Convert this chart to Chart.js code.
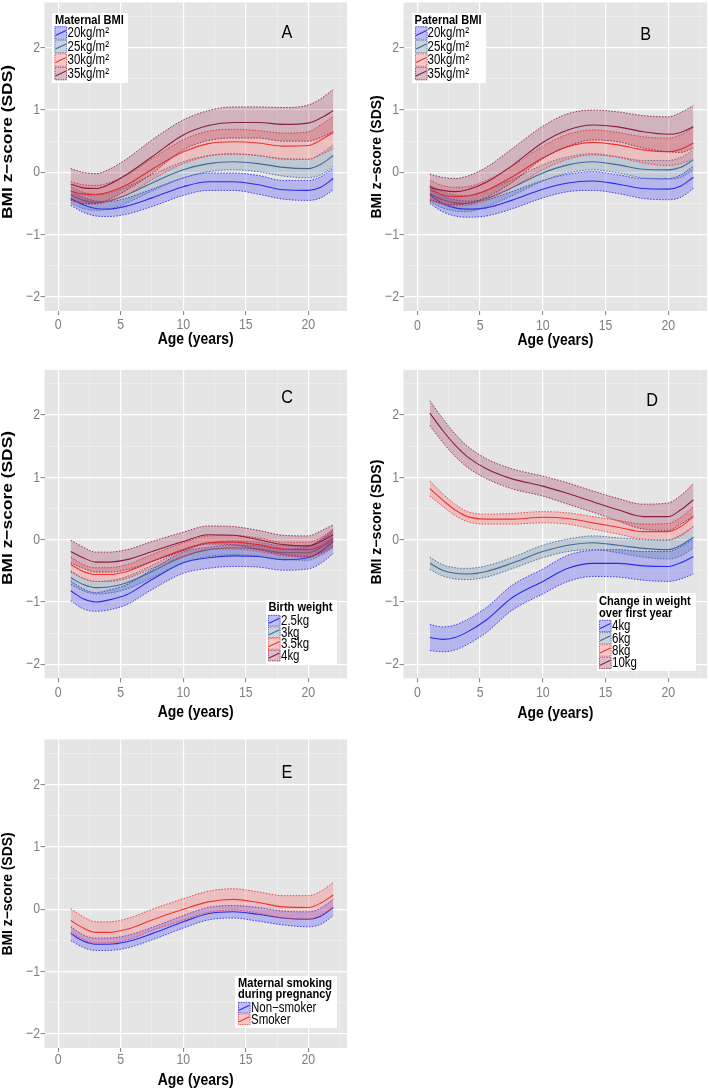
<!DOCTYPE html>
<html>
<head>
<meta charset="utf-8">
<script src="https://cdn.jsdelivr.net/npm/chart.js@4.4.1/dist/chart.umd.min.js"></script>
<style>
html, body { margin: 0; padding: 0; background: #fff; }
body { position: relative; width: 709px; height: 1089px; overflow: hidden; }
canvas { position: absolute; }
</style>
</head>
<body>
<canvas id="cA"></canvas>
<canvas id="cB"></canvas>
<canvas id="cC"></canvas>
<canvas id="cD"></canvas>
<canvas id="cE"></canvas>
<script>
/* =========================================================
   DATA
   ========================================================= */
const AGES = [1, 2, 3, 4, 5.5, 7.5, 10, 12, 14, 16, 18, 20, 21, 22];
const X_MAJOR = [0, 5, 10, 15, 20];
const X_MINOR = [2.5, 7.5, 12.5, 17.5, 22.5];
const Y_MAJOR = [-2, -1, 0, 1, 2];
const Y_MINOR = [-1.5, -0.5, 0.5, 1.5, 2.5];
const X_TITLE = "Age (years)";
const Y_TITLE = "BMI z\u2212score (SDS)";

// A: maternal BMI
const A_LABELS = ["20kg/m²", "25kg/m²", "30kg/m²", "35kg/m²"];
const A20_mean = [-0.42, -0.52, -0.58, -0.59, -0.54, -0.41, -0.23, -0.15, -0.15, -0.20, -0.28, -0.29, -0.24, -0.10];
const A20_lo   = [-0.53, -0.64, -0.70, -0.71, -0.67, -0.55, -0.37, -0.29, -0.29, -0.35, -0.43, -0.45, -0.41, -0.28];
const A20_hi   = [-0.30, -0.40, -0.46, -0.47, -0.41, -0.27, -0.09, -0.01, -0.01, -0.05, -0.13, -0.13, -0.07, 0.07];
const A25_mean = [-0.36, -0.45, -0.48, -0.46, -0.36, -0.17, 0.04, 0.14, 0.17, 0.14, 0.08, 0.06, 0.13, 0.27];
const A25_lo   = [-0.49, -0.58, -0.61, -0.59, -0.49, -0.30, -0.09, 0.01, 0.04, 0.01, -0.06, -0.09, -0.04, 0.10];
const A25_hi   = [-0.23, -0.32, -0.35, -0.33, -0.23, -0.04, 0.17, 0.27, 0.30, 0.27, 0.22, 0.21, 0.30, 0.44];
const A30_mean = [-0.30, -0.35, -0.36, -0.32, -0.20, 0.05, 0.33, 0.46, 0.49, 0.47, 0.42, 0.43, 0.52, 0.64];
const A30_lo   = [-0.45, -0.50, -0.51, -0.47, -0.36, -0.12, 0.14, 0.26, 0.29, 0.27, 0.21, 0.21, 0.28, 0.38];
const A30_hi   = [-0.15, -0.20, -0.21, -0.17, -0.04, 0.22, 0.52, 0.66, 0.69, 0.67, 0.63, 0.65, 0.76, 0.90];
const A35_mean = [-0.19, -0.25, -0.26, -0.20, -0.03, 0.25, 0.60, 0.75, 0.80, 0.80, 0.77, 0.79, 0.87, 0.99];
const A35_lo   = [-0.44, -0.50, -0.50, -0.44, -0.28, -0.02, 0.36, 0.51, 0.55, 0.55, 0.50, 0.50, 0.56, 0.65];
const A35_hi   = [0.06, 0.00, -0.02, 0.04, 0.22, 0.52, 0.84, 0.99, 1.05, 1.05, 1.04, 1.08, 1.18, 1.33];

// B: paternal BMI
const B_LABELS = ["20kg/m²", "25kg/m²", "30kg/m²", "35kg/m²"];
const B20_mean = [-0.36, -0.50, -0.57, -0.59, -0.57, -0.45, -0.27, -0.17, -0.14, -0.19, -0.26, -0.27, -0.22, -0.08];
const B20_lo   = [-0.50, -0.63, -0.70, -0.72, -0.70, -0.59, -0.41, -0.31, -0.29, -0.34, -0.42, -0.44, -0.40, -0.26];
const B20_hi   = [-0.22, -0.37, -0.44, -0.46, -0.44, -0.31, -0.13, -0.03, 0.01, -0.04, -0.10, -0.10, -0.04, 0.10];
const B25_mean = [-0.34, -0.44, -0.49, -0.50, -0.42, -0.25, -0.01, 0.12, 0.17, 0.12, 0.05, 0.04, 0.08, 0.20];
const B25_lo   = [-0.47, -0.57, -0.62, -0.63, -0.55, -0.38, -0.14, -0.01, 0.04, -0.01, -0.09, -0.11, -0.08, 0.04];
const B25_hi   = [-0.21, -0.31, -0.36, -0.37, -0.29, -0.12, 0.12, 0.25, 0.30, 0.25, 0.19, 0.19, 0.24, 0.36];
const B30_mean = [-0.28, -0.36, -0.39, -0.38, -0.29, -0.08, 0.23, 0.41, 0.48, 0.44, 0.36, 0.33, 0.37, 0.47];
const B30_lo   = [-0.43, -0.51, -0.54, -0.53, -0.45, -0.25, 0.04, 0.21, 0.28, 0.24, 0.15, 0.11, 0.14, 0.22];
const B30_hi   = [-0.13, -0.21, -0.24, -0.23, -0.13, 0.09, 0.42, 0.61, 0.68, 0.64, 0.57, 0.55, 0.60, 0.72];
const B35_mean = [-0.24, -0.29, -0.31, -0.28, -0.16, 0.10, 0.48, 0.68, 0.76, 0.73, 0.65, 0.61, 0.64, 0.73];
const B35_lo   = [-0.45, -0.50, -0.52, -0.50, -0.40, -0.17, 0.22, 0.42, 0.52, 0.49, 0.39, 0.33, 0.32, 0.39];
const B35_hi   = [-0.03, -0.08, -0.10, -0.06, 0.08, 0.37, 0.74, 0.94, 1.00, 0.97, 0.91, 0.89, 0.96, 1.07];

// C: birth weight
const C_LABELS = ["2.5kg", "3kg", "3.5kg", "4kg"];
const C25_mean = [-0.82, -0.95, -1.00, -0.97, -0.88, -0.64, -0.37, -0.29, -0.26, -0.27, -0.32, -0.29, -0.19, -0.03];
const C25_lo   = [-0.98, -1.11, -1.15, -1.13, -1.04, -0.80, -0.54, -0.46, -0.43, -0.44, -0.49, -0.47, -0.38, -0.22];
const C25_hi   = [-0.66, -0.79, -0.85, -0.81, -0.72, -0.48, -0.20, -0.12, -0.09, -0.10, -0.15, -0.11, 0.00, 0.16];
const C3_mean  = [-0.61, -0.72, -0.77, -0.76, -0.69, -0.51, -0.27, -0.16, -0.13, -0.15, -0.21, -0.21, -0.13, 0.00];
const C3_lo    = [-0.72, -0.82, -0.87, -0.86, -0.79, -0.61, -0.37, -0.27, -0.24, -0.26, -0.32, -0.33, -0.25, -0.13];
const C3_hi    = [-0.50, -0.62, -0.67, -0.66, -0.59, -0.41, -0.17, -0.05, -0.02, -0.04, -0.10, -0.09, -0.01, 0.13];
const C35_mean = [-0.40, -0.51, -0.56, -0.56, -0.51, -0.35, -0.16, -0.05, -0.04, -0.08, -0.15, -0.16, -0.10, 0.03];
const C35_lo   = [-0.52, -0.62, -0.67, -0.67, -0.62, -0.46, -0.27, -0.16, -0.15, -0.19, -0.26, -0.28, -0.23, -0.11];
const C35_hi   = [-0.28, -0.40, -0.45, -0.45, -0.40, -0.24, -0.05, 0.06, 0.07, 0.03, -0.04, -0.04, 0.03, 0.17];
const C4_mean  = [-0.19, -0.29, -0.36, -0.36, -0.32, -0.19, -0.03, 0.08, 0.07, 0.00, -0.08, -0.10, -0.03, 0.08];
const C4_lo    = [-0.37, -0.46, -0.52, -0.52, -0.48, -0.35, -0.18, -0.07, -0.08, -0.16, -0.24, -0.27, -0.21, -0.10];
const C4_hi    = [-0.01, -0.12, -0.20, -0.20, -0.16, -0.03, 0.12, 0.22, 0.21, 0.15, 0.07, 0.06, 0.14, 0.24];

// D: change in weight over first year
const D_LABELS = ["4kg", "6kg", "8kg", "10kg"];
const D4_mean  = [-1.57, -1.60, -1.57, -1.48, -1.29, -0.94, -0.67, -0.46, -0.38, -0.38, -0.42, -0.43, -0.37, -0.27];
const D4_lo    = [-1.78, -1.80, -1.77, -1.68, -1.49, -1.14, -0.87, -0.67, -0.59, -0.60, -0.65, -0.67, -0.63, -0.55];
const D4_hi    = [-1.36, -1.40, -1.37, -1.28, -1.09, -0.74, -0.47, -0.25, -0.17, -0.16, -0.19, -0.19, -0.11, 0.01];
const D6_mean  = [-0.38, -0.49, -0.54, -0.55, -0.51, -0.38, -0.19, -0.09, -0.05, -0.09, -0.14, -0.16, -0.09, 0.04];
const D6_lo    = [-0.48, -0.58, -0.63, -0.64, -0.60, -0.47, -0.29, -0.19, -0.16, -0.21, -0.28, -0.31, -0.26, -0.13];
const D6_hi    = [-0.28, -0.40, -0.45, -0.46, -0.42, -0.29, -0.09, 0.01, 0.06, 0.03, 0.00, -0.01, 0.08, 0.21];
const D8_mean  = [0.82, 0.64, 0.48, 0.37, 0.33, 0.33, 0.36, 0.34, 0.27, 0.20, 0.13, 0.13, 0.21, 0.37];
const D8_lo    = [0.70, 0.54, 0.39, 0.29, 0.25, 0.25, 0.27, 0.25, 0.17, 0.09, 0.01, 0.00, 0.06, 0.21];
const D8_hi    = [0.94, 0.74, 0.57, 0.45, 0.41, 0.42, 0.45, 0.43, 0.37, 0.31, 0.25, 0.26, 0.36, 0.53];
const D10_mean = [2.03, 1.76, 1.52, 1.33, 1.14, 0.98, 0.86, 0.74, 0.61, 0.48, 0.37, 0.37, 0.48, 0.64];
const D10_lo   = [1.83, 1.57, 1.34, 1.16, 0.98, 0.82, 0.70, 0.57, 0.44, 0.30, 0.17, 0.15, 0.25, 0.38];
const D10_hi   = [2.23, 1.95, 1.70, 1.50, 1.30, 1.14, 1.02, 0.91, 0.78, 0.66, 0.57, 0.59, 0.71, 0.90];

// E: maternal smoking during pregnancy
const E_LABELS = ["Non−smoker", "Smoker"];
const E_non_mean = [-0.39, -0.51, -0.56, -0.56, -0.52, -0.39, -0.20, -0.07, -0.04, -0.08, -0.14, -0.16, -0.11, 0.03];
const E_non_lo   = [-0.50, -0.61, -0.66, -0.66, -0.62, -0.49, -0.30, -0.17, -0.14, -0.19, -0.25, -0.28, -0.24, -0.10];
const E_non_hi   = [-0.28, -0.41, -0.46, -0.46, -0.42, -0.29, -0.10, 0.03, 0.06, 0.03, -0.03, -0.04, 0.02, 0.16];
const E_smk_mean = [-0.18, -0.30, -0.37, -0.37, -0.32, -0.17, 0.00, 0.12, 0.16, 0.11, 0.04, 0.03, 0.10, 0.23];
const E_smk_lo   = [-0.37, -0.48, -0.54, -0.54, -0.49, -0.34, -0.17, -0.05, -0.01, -0.06, -0.14, -0.16, -0.09, 0.03];
const E_smk_hi   = [0.01, -0.12, -0.20, -0.20, -0.15, 0.00, 0.17, 0.29, 0.33, 0.28, 0.22, 0.22, 0.29, 0.43];

/* =========================================================
   STYLE
   ========================================================= */
const FONT = "'Liberation Sans', Arial, sans-serif";
const SQUEEZE = 0.82; // the figure text is horizontally condensed
const COL = {
    blue:   { line: "#2b2bea", fill: "rgba(60, 60, 255, 0.28)" },
    steel:  { line: "#3d6b99", fill: "rgba(60, 100, 150, 0.22)" },
    red:    { line: "#f03232", fill: "rgba(255, 80, 80, 0.25)" },
    maroon: { line: "#8a1f45", fill: "rgba(150, 30, 70, 0.25)" },
};

const PANELS = [
    {
        id: "cA", letter: "A", letterAt: [18.3, 2.24],
        box: [-2, 0, 356, 363], plot: [44.5, 2.5, 347, 311],
        xLabelY: 325, xTitleY: 339, yTitle: { x: 7.7, y: 142, size: 17.4, sx: 0.88 },
        series: [
            { lo: A20_lo, hi: A20_hi, mean: A20_mean, col: COL.blue },
            { lo: A25_lo, hi: A25_hi, mean: A25_mean, col: COL.steel },
            { lo: A30_lo, hi: A30_hi, mean: A30_mean, col: COL.red },
            { lo: A35_lo, hi: A35_hi, mean: A35_mean, col: COL.maroon },
        ],
        legend: { labels: A_LABELS, title: ["Maternal BMI"], box: [52, 13, 128, 83], titleX: 55, titleY: [20],
                  rowY: [33, 46.5, 60, 73.5], rowH: 13.5, keyX: 54.5, textX: 67.5 },
    },
    {
        id: "cB", letter: "B", letterAt: [18.2, 2.2],
        box: [352, 0, 357, 363], plot: [403.5, 2.5, 707.2, 311],
        xLabelY: 326, xTitleY: 340, yTitle: { x: 376.8, y: 157, size: 13.9, sx: 1 },
        series: [
            { lo: B20_lo, hi: B20_hi, mean: B20_mean, col: COL.blue },
            { lo: B25_lo, hi: B25_hi, mean: B25_mean, col: COL.steel },
            { lo: B30_lo, hi: B30_hi, mean: B30_mean, col: COL.red },
            { lo: B35_lo, hi: B35_hi, mean: B35_mean, col: COL.maroon },
        ],
        legend: { labels: B_LABELS, title: ["Paternal BMI"], box: [412, 13, 486, 83], titleX: 414.5, titleY: [20],
                  rowY: [33, 46.5, 60, 73.5], rowH: 13.5, keyX: 415, textX: 427.5 },
    },
    {
        id: "cC", letter: "C", letterAt: [18.3, 2.27],
        box: [-2, 363, 356, 363], plot: [44.5, 369.9, 347, 678.3],
        xLabelY: 693, xTitleY: 712, yTitle: { x: 7.7, y: 508, size: 17.4, sx: 0.88 },
        series: [
            { lo: C25_lo, hi: C25_hi, mean: C25_mean, col: COL.blue },
            { lo: C3_lo, hi: C3_hi, mean: C3_mean, col: COL.steel },
            { lo: C35_lo, hi: C35_hi, mean: C35_mean, col: COL.red },
            { lo: C4_lo, hi: C4_hi, mean: C4_mean, col: COL.maroon },
        ],
        legend: { labels: C_LABELS, title: ["Birth weight"], box: [266, 600, 337, 665], titleX: 268.5, titleY: [607],
                  rowY: [620.7, 632.3, 643.9, 655.5], rowH: 11.6, keyX: 268, textX: 281 },
    },
    {
        id: "cD", letter: "D", letterAt: [18.7, 2.23],
        box: [352, 363, 357, 363], plot: [403.5, 369.9, 707.2, 678.3],
        xLabelY: 693, xTitleY: 713, yTitle: { x: 376.8, y: 522, size: 14.1, sx: 1 },
        series: [
            { lo: D4_lo, hi: D4_hi, mean: D4_mean, col: COL.blue },
            { lo: D6_lo, hi: D6_hi, mean: D6_mean, col: COL.steel },
            { lo: D8_lo, hi: D8_hi, mean: D8_mean, col: COL.red },
            { lo: D10_lo, hi: D10_hi, mean: D10_mean, col: COL.maroon },
        ],
        legend: { labels: D_LABELS, title: ["Change in weight", "over first year"], box: [597, 593, 696, 671], titleX: 599,
                  titleY: [601, 613], rowY: [626, 638.2, 650.5, 662.8], rowH: 12.3, keyX: 599, textX: 612 },
    },
    {
        id: "cE", letter: "E", letterAt: [18.3, 2.19],
        box: [-2, 726, 356, 363], plot: [44.5, 739.5, 347, 1048],
        xLabelY: 1059.5, xTitleY: 1080.5, yTitle: { x: 8, y: 894, size: 13.9, sx: 1 },
        series: [
            { lo: E_non_lo, hi: E_non_hi, mean: E_non_mean, col: COL.blue },
            { lo: E_smk_lo, hi: E_smk_hi, mean: E_smk_mean, col: COL.red },
        ],
        legend: { labels: E_LABELS, title: ["Maternal smoking", "during pregnancy"], box: [235, 976, 337, 1028], titleX: 238,
                  titleY: [983.3, 994.7], rowY: [1007.7, 1019.3], rowH: 11.6, keyX: 238, textX: 251 },
    },
];

/* =========================================================
   HELPERS
   ========================================================= */
const pts = arr => AGES.map((a, k) => ({ x: a, y: arr[k] }));
const fmt = v => (v < 0 ? "\u2212" + Math.abs(v) : String(v));

function edgeSet(arr, col, fillPrev) {
    return {
        data: pts(arr),
        borderColor: col.line,
        borderWidth: 0.9,
        borderDash: [1.5, 1.5],
        backgroundColor: col.fill,
        fill: fillPrev ? "-1" : false,
        pointRadius: 0,
        cubicInterpolationMode: "monotone",
    };
}

function meanSet(arr, col) {
    return {
        data: pts(arr),
        borderColor: col.line,
        borderWidth: 1.1,
        fill: false,
        pointRadius: 0,
        cubicInterpolationMode: "monotone",
    };
}

function gridOpts(majors) {
    const isMajor = c => c.tick && majors.includes(c.tick.value);
    return {
        color: c => (isMajor(c) ? "#ffffff" : "#f2f2f2"),
        lineWidth: c => (isMajor(c) ? 1.2 : 0.6),
        tickColor: c => (isMajor(c) ? "#7f7f7f" : "rgba(0,0,0,0)"),
        tickLength: 4,
        tickWidth: 1,
        drawTicks: true,
    };
}

// condensed text: draw with a horizontal squeeze
function sqText(ctx, text, x, y, font, align, sx, color) {
    ctx.save();
    ctx.font = font;
    ctx.fillStyle = color || "#000";
    ctx.textAlign = align;
    ctx.textBaseline = "middle";
    ctx.translate(x, y);
    ctx.scale(sx, 1);
    ctx.fillText(text, 0, 0);
    ctx.restore();
}

function decor(p) {
    const [bl, bt] = p.box;
    return {
        id: "decor_" + p.id,
        beforeDraw(chart) {
            const { ctx, chartArea: a } = chart;
            ctx.save();
            ctx.fillStyle = "#e5e5e5";
            ctx.fillRect(a.left, a.top, a.right - a.left, a.bottom - a.top);
            ctx.restore();
        },
        afterDraw(chart) {
            const ctx = chart.ctx;
            const sx = chart.scales.x, sy = chart.scales.y;
            const X = v => sx.getPixelForValue(v) + bl;
            const Y = v => sy.getPixelForValue(v) + bt;
            const L = p.legend;

            ctx.save();
            ctx.translate(-bl, -bt);

            // tick labels
            const tickFont = `15px ${FONT}`;
            X_MAJOR.forEach(v => sqText(ctx, fmt(v), X(v), p.xLabelY, tickFont, "center", SQUEEZE, "#7f7f7f"));
            Y_MAJOR.forEach(v => sqText(ctx, fmt(v), p.plot[0] - 4.5, Y(v), tickFont, "right", SQUEEZE, "#7f7f7f"));

            // axis titles
            sqText(ctx, X_TITLE, (p.plot[0] + p.plot[2]) / 2, p.xTitleY, `bold 17px ${FONT}`, "center", SQUEEZE);
            ctx.save();
            ctx.font = `bold ${p.yTitle.size}px ${FONT}`;
            ctx.fillStyle = "#000";
            ctx.textAlign = "center";
            ctx.textBaseline = "middle";
            ctx.translate(p.yTitle.x, p.yTitle.y);
            ctx.scale(p.yTitle.sx, 1);
            ctx.rotate(-Math.PI / 2);
            ctx.fillText(Y_TITLE, 0, 0);
            ctx.restore();

            // panel letter
            sqText(ctx, p.letter, X(p.letterAt[0]), Y(p.letterAt[1]), `18px ${FONT}`, "center", 0.9);

            // legend
            const [x0, y0, x1, y1] = L.box;
            ctx.fillStyle = "#fff";
            ctx.fillRect(x0, y0, x1 - x0, y1 - y0);
            L.title.forEach((t, i) => sqText(ctx, t, L.titleX, L.titleY[i], `bold 13.5px ${FONT}`, "left", SQUEEZE));

            const kw = 12.5;
            p.series.forEach((s, i) => {
                const cy = L.rowY[i];
                const ky = cy - L.rowH / 2;
                ctx.fillStyle = "#f2f2f2";
                ctx.fillRect(L.keyX, ky, kw, L.rowH);
                ctx.fillStyle = s.col.fill;
                ctx.fillRect(L.keyX, ky, kw, L.rowH);
                ctx.strokeStyle = s.col.line;
                ctx.lineWidth = 0.8;
                ctx.setLineDash([1.2, 1.2]);
                ctx.strokeRect(L.keyX + 0.5, ky + 0.5, kw - 1, L.rowH - 1);
                ctx.setLineDash([]);
                ctx.lineWidth = 1.1;
                ctx.beginPath();
                ctx.moveTo(L.keyX + 1, cy + 2.5);
                ctx.lineTo(L.keyX + kw - 1, cy - 2.5);
                ctx.stroke();
                sqText(ctx, L.labels[i], L.textX, cy + 0.5, `14px ${FONT}`, "left", SQUEEZE);
            });
            ctx.restore();
        },
    };
}

/* =========================================================
   BUILD PANELS
   ========================================================= */
function makePanel(p) {
    const cv = document.getElementById(p.id);
    const [bl, bt, bw, bh] = p.box;
    const [pl, pt, pr, pb] = p.plot;
    cv.width = bw;
    cv.height = bh;
    cv.style.left = bl + "px";
    cv.style.top = bt + "px";

    const datasets = [];
    p.series.forEach(s => {
        datasets.push(edgeSet(s.lo, s.col, false));
        datasets.push(edgeSet(s.hi, s.col, true));
        datasets.push(meanSet(s.mean, s.col));
    });
    // first series underneath, later ones on top
    datasets.forEach((d, i) => { d.order = -i; });

    new Chart(cv, {
        type: "line",
        data: { datasets },
        options: {
            responsive: false,
            animation: false,
            events: [],
            layout: { padding: { left: 0, top: pt - bt, right: bl + bw - pr, bottom: 0 } },
            plugins: { legend: { display: false }, tooltip: { enabled: false } },
            scales: {
                x: {
                    type: "linear",
                    min: -1.1,
                    max: 23.1,
                    afterBuildTicks: sc => {
                        sc.ticks = X_MAJOR.concat(X_MINOR).sort((a, b) => a - b).map(v => ({ value: v }));
                    },
                    afterFit: sc => {
                        sc.height = bt + bh - pb;
                        sc.paddingLeft = 0;
                        sc.paddingRight = 0;
                    },
                    grid: gridOpts(X_MAJOR),
                    border: { display: false },
                    ticks: { display: false, autoSkip: false },
                },
                y: {
                    type: "linear",
                    min: -2.225,
                    max: 2.725,
                    afterBuildTicks: sc => {
                        sc.ticks = Y_MAJOR.concat(Y_MINOR).sort((a, b) => a - b).map(v => ({ value: v }));
                    },
                    afterFit: sc => {
                        sc.width = pl - bl;
                        sc.paddingTop = 0;
                        sc.paddingBottom = 0;
                    },
                    grid: gridOpts(Y_MAJOR),
                    border: { display: false },
                    ticks: { display: false, autoSkip: false },
                },
            },
        },
        plugins: [decor(p)],
    });
}

PANELS.forEach(makePanel);
</script>
</body>
</html>
